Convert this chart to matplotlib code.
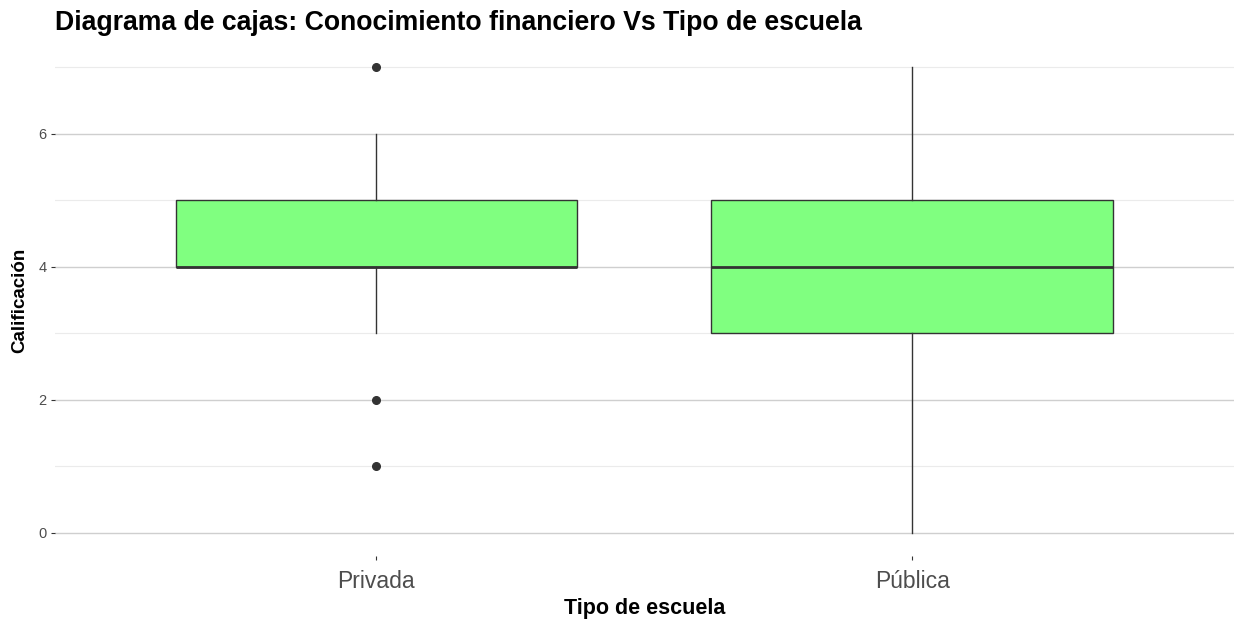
import matplotlib
matplotlib.use("Agg")
import matplotlib.pyplot as plt

plt.rcParams["font.family"] = ["Liberation Sans", "DejaVu Sans"]

# datos
escuelas = ["Privada", "Pública"]
q1 = [4, 3]
medianas = [4, 4]
q3 = [5, 5]
bigote_inf = [3, 0]
bigote_sup = [6, 7]
atipicos = [[7, 2, 1], []]

stats = []
for i, nombre in enumerate(escuelas):
    stats.append(dict(label=nombre, q1=q1[i], med=medianas[i], q3=q3[i],
                      whislo=bigote_inf[i], whishi=bigote_sup[i], fliers=atipicos[i]))

fig = plt.figure(figsize=(12.36, 6.2), dpi=100)
ax = fig.add_axes([0.0445, 0.1032, 0.9535, 0.8258])

linea = "#333333"
ax.bxp(stats, positions=[1, 2], widths=0.75, patch_artist=True, showcaps=False,
       boxprops=dict(facecolor="#80FF80", edgecolor=linea, linewidth=1.0),
       medianprops=dict(color=linea, linewidth=2.0),
       whiskerprops=dict(color=linea, linewidth=1.0),
       flierprops=dict(marker="o", markerfacecolor=linea, markeredgecolor=linea, markersize=5.5))

ax.set_xlim(0.4, 2.6)
ax.set_ylim(-0.35, 7.35)
ax.set_yticks([0, 2, 4, 6])
ax.set_yticks([1, 3, 5, 7], minor=True)
ax.grid(axis="y", which="major", color="#cfcfcf", linewidth=1.0)
ax.grid(axis="y", which="minor", color="#ebebeb", linewidth=0.8)
ax.set_axisbelow(True)
for s in ax.spines.values():
    s.set_visible(False)

ax.tick_params(axis="y", which="major", length=3, color=linea, labelsize=10.5, labelcolor="#4d4d4d", pad=3)
ax.tick_params(axis="y", which="minor", length=0)
ax.tick_params(axis="x", length=3, color=linea, labelsize=16.5, labelcolor="#4d4d4d", pad=7)

ax.set_xlabel("Tipo de escuela", fontsize=15.5, fontweight="bold", labelpad=4)
ax.set_ylabel("Calificación", fontsize=13.5, fontweight="bold", labelpad=7)
fig.text(0.0445, 0.963, "Diagrama de cajas: Conocimiento financiero Vs Tipo de escuela",
         fontsize=19.2, fontweight="bold", va="center", ha="left")

fig.savefig("out.png", dpi=100)
